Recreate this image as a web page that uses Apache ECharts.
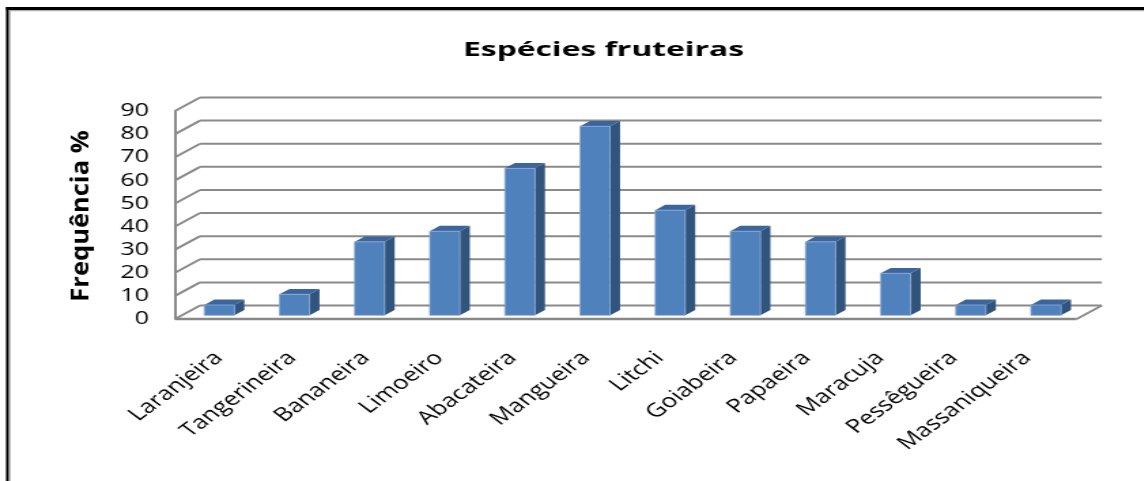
<!DOCTYPE html>
<html>
<head>
<meta charset="utf-8">
<script src="https://cdn.jsdelivr.net/npm/echarts@6/dist/echarts.min.js"></script>
<style>
  html, body { margin: 0; padding: 0; background: #fff; overflow: hidden; }
  #wrap { width: 1144px; height: 481px; overflow: hidden; }
  #chart { height: 481px; transform-origin: 0 0; }
</style>
</head>
<body>
<div id="wrap"><div id="chart"></div></div>
<script>
// Fruit species and their frequency (%)
const categories = ['Laranjeira', 'Tangerineira', 'Bananeira', 'Limoeiro', 'Abacateira', 'Mangueira',
                    'Litchi', 'Goiabeira', 'Papaeira', 'Maracuja', 'Pessêgueira', 'Massaniqueira'];
const frequency = [4.5, 9.1, 31.8, 36.4, 63.6, 81.8, 45.5, 36.4, 31.8, 18.2, 4.5, 4.5];
const yTicks = [0, 10, 20, 30, 40, 50, 60, 70, 80, 90];
const titleText = 'Espécies fruteiras';
const yName = 'Frequência %';

// The chart is laid out on a narrower canvas and widened horizontally,
// like a column chart stretched to fill a wide frame.
const S = 1.36;
const W = 1144 / S;
const px = v => v / S;

const chartEl = document.getElementById('chart');
chartEl.style.width = W + 'px';
chartEl.style.transform = 'scaleX(' + S + ')';

// 3D depth of the plot box (back wall offset from front plane)
const DX = px(25), DY = -13.5;
const D0 = 0.27, D1 = 0.67;      // bar front / back depth fractions
const GRID_COLOR = '#8a8a8a';

const chart = echarts.init(chartEl, null, { renderer: 'canvas' });

function renderFrame(params, api) {
  const cs = params.coordSys;
  const v = api.value(1);
  const y = api.coord([0, v])[1];
  const x0 = cs.x, x1 = cs.x + cs.width;
  const style = { stroke: GRID_COLOR, lineWidth: 2, fill: null };
  const children = [
    { type: 'line', shape: { x1: x0, y1: y, x2: x0 + DX, y2: y + DY }, style },
    { type: 'line', shape: { x1: x0 + DX, y1: y + DY, x2: x1 + DX, y2: y + DY }, style }
  ];
  if (v === 0) {
    children.push({ type: 'line', shape: { x1: x0, y1: y, x2: x1, y2: y }, style: { stroke: '#888', lineWidth: 2.4 } });
    children.push({ type: 'line', shape: { x1: x1, y1: y, x2: x1 + DX, y2: y + DY }, style });
  }
  return { type: 'group', children };
}

function renderBar(params, api) {
  const i = api.value(0), v = api.value(1);
  const base = api.coord([i, 0]);
  const top = api.coord([i, v]);
  const bw = api.size([1, 0])[0] * 0.4;
  const fx = base[0] - bw / 2 + DX * D0;
  const fy0 = base[1] + DY * D0;
  const fy1 = top[1] + DY * D0;
  const ddx = DX * (D1 - D0), ddy = DY * (D1 - D0);
  return {
    type: 'group',
    children: [
      { type: 'polygon', shape: { points: [[fx + bw, fy1], [fx + bw + ddx, fy1 + ddy], [fx + bw + ddx, fy0 + ddy], [fx + bw, fy0]] },
        style: { fill: '#31547d' } },
      { type: 'polygon', shape: { points: [[fx, fy1], [fx + ddx, fy1 + ddy], [fx + bw + ddx, fy1 + ddy], [fx + bw, fy1]] },
        style: { fill: '#3b659c' } },
      { type: 'rect', shape: { x: fx, y: fy1, width: bw, height: fy0 - fy1 },
        style: { fill: '#4f81bd', stroke: '#8eaad3', lineWidth: 0.8 } }
    ]
  };
}

const option = {
  backgroundColor: '#ffffff',
  animation: false,
  grid: [
    { left: px(175), right: W - px(1077), top: 111, bottom: 481 - 319 },
    { left: px(182), right: W - px(182 + 882), top: 111, bottom: 481 - 319 }
  ],
  xAxis: [
    { type: 'category', gridIndex: 0, data: categories,
      axisLine: { show: false }, axisTick: { show: false }, axisLabel: { show: false } },
    { type: 'category', gridIndex: 1, data: categories,
      axisLine: { show: false }, axisTick: { show: false },
      axisLabel: { rotate: 45, margin: 36, interval: 0, color: '#000',
                   fontFamily: 'Open Sans', fontSize: 19 } }
  ],
  yAxis: [
    { type: 'value', gridIndex: 0, min: 0, max: 90, interval: 10,
      axisLine: { show: true, lineStyle: { color: GRID_COLOR, width: 2 } },
      axisTick: { show: false }, splitLine: { show: false },
      axisLabel: { margin: px(26), color: '#000', fontFamily: 'Open Sans', fontSize: 18.5 } },
    { type: 'value', gridIndex: 1, min: 0, max: 90, interval: 10, show: false }
  ],
  series: [
    { type: 'custom', name: 'frame', xAxisIndex: 0, yAxisIndex: 0, z: 1, silent: true,
      renderItem: renderFrame, data: yTicks.map(v => [0, v]) },
    { type: 'custom', name: 'Frequência', xAxisIndex: 0, yAxisIndex: 0, z: 2,
      renderItem: renderBar, data: frequency.map((v, i) => [i, v]) }
  ],
  graphic: [
    // title
    { type: 'text', x: px(603.5), y: 50, scaleX: 1.2, z: 10,
      style: { text: titleText, fontFamily: 'Open Sans', fontWeight: 'bold', fontSize: 19.5,
               fill: '#000', align: 'center', verticalAlign: 'middle' } },
    // value axis name
    { type: 'text', x: px(82), y: 216, rotation: Math.PI / 2, scaleX: 1.5, z: 10,
      style: { text: yName, fontFamily: 'Open Sans', fontWeight: 'bold', fontSize: 17,
               fill: '#000', align: 'center', verticalAlign: 'middle' } },
    // outer frame (top and left edges)
    { type: 'rect', shape: { x: px(6), y: 7, width: W, height: 3 }, style: { fill: '#000' }, z: 20 },
    { type: 'rect', shape: { x: px(6), y: 7, width: px(3), height: 500 }, style: { fill: '#000' }, z: 20 },
    { type: 'rect', shape: { x: px(9), y: 10, width: W, height: 1.2 }, style: { fill: '#b0b0b0' }, z: 20 },
    { type: 'rect', shape: { x: px(9), y: 10, width: px(1.5), height: 500 }, style: { fill: '#b0b0b0' }, z: 20 }
  ]
};

chart.setOption(option);
</script>
</body>
</html>
